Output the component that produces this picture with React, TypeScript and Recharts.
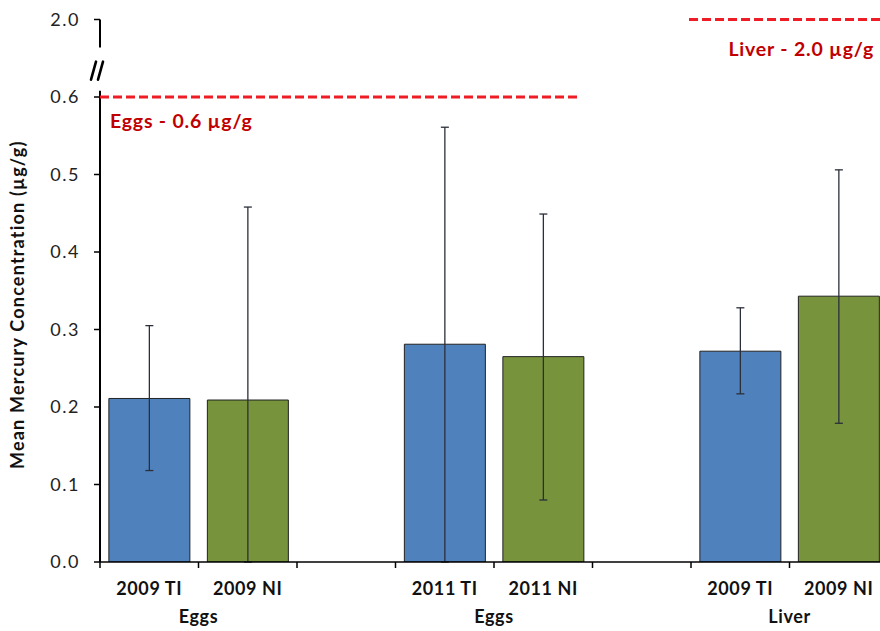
import React from 'react';
import {
  BarChart,
  Bar,
  XAxis,
  YAxis,
  Cell,
  ErrorBar,
  ReferenceLine,
  ReferenceDot,
} from 'recharts';

// Sample groups along the x axis (empty entries are spacer slots between tissues)
const sampleLabels = ['2009 TI', '2009 NI', '', '2011 TI', '2011 NI', '', '2009 TI', '2009 NI'];
const tissues = ['Eggs', 'Eggs', '', 'Eggs', 'Eggs', '', 'Liver', 'Liver'];
const sites = ['TI', 'NI', '', 'TI', 'NI', '', 'TI', 'NI'];

// Mean mercury concentration (µg/g) and the ends of each error bar
const meanHg = [0.211, 0.209, null, 0.281, 0.265, null, 0.272, 0.343];
const errLowerEnd = [0.118, 0, null, 0, 0.08, null, 0.217, 0.179];
const errUpperEnd = [0.305, 0.458, null, 0.561, 0.449, null, 0.328, 0.506];

// Broken y axis: 0 – 0.6 on a linear scale, top tick stands for 2.0
const yTicks = [0, 0.1, 0.2, 0.3, 0.4, 0.5, 0.6, 0.7];
const yTickLabels = ['0.0', '0.1', '0.2', '0.3', '0.4', '0.5', '0.6', '2.0'];
const axisGapBottom = 0.608;
const axisGapTop = 0.664;
const axisBreakAt = 0.634;

// Guideline thresholds (axis units) and their horizontal extent (slot units)
const eggThreshold = 0.6;
const eggLineSpan = [0, 4.87];
const liverThresholdPos = 0.7;
const liverLineSpan = [5.98, 8];

const data = sampleLabels.map((label, i) => {
  const m = meanHg[i];
  return {
    key: `s${i}`,
    slot: i + 1,
    label,
    tissue: tissues[i],
    site: sites[i],
    mean: m,
    err:
      m == null
        ? undefined
        : [m - (errLowerEnd[i] as number), (errUpperEnd[i] as number) - m],
  };
});

const CHART_W = 888;
const CHART_H = 631;
const Y_AXIS_W = 100;
const X_AXIS_H = 69;
const MARGIN_TOP = 19.5;
const PLOT_W = CHART_W - Y_AXIS_W;
const SLOT_W = PLOT_W / sampleLabels.length;

const BLUE = '#4F81BD';
const GREEN = '#77933C';
const RED_LINE = '#EE1C25';
const RED_TEXT = '#C00000';
const FONT = 'Lato, "Open Sans", sans-serif';

const XTick = (props: any) => {
  const { x, y, index } = props;
  const edge = x - SLOT_W / 2;
  const label = sampleLabels[index];
  const showGroup =
    index > 0 && tissues[index] !== '' && tissues[index] === tissues[index - 1];
  return (
    <g>
      <line x1={edge} y1={y} x2={edge} y2={y + 6} stroke="#000" strokeWidth={1.5} />
      {label !== '' && (
        <text
          x={x}
          y={y + 33}
          textAnchor="middle"
          fontFamily={FONT}
          fontWeight="bold"
          fontSize={18}
          letterSpacing={0.6}
          fill="#111"
        >
          {label}
        </text>
      )}
      {showGroup && (
        <text
          x={edge}
          y={y + 61}
          textAnchor="middle"
          fontFamily={FONT}
          fontWeight="bold"
          fontSize={18}
          letterSpacing={0.6}
          fill="#111"
        >
          {tissues[index]}
        </text>
      )}
    </g>
  );
};

const renderYLabel = (props: any) => {
  const { viewBox } = props;
  const cx = viewBox.x + 17;
  const cy = viewBox.y + viewBox.height / 2 + 14;
  return (
    <text
      x={cx}
      y={cy}
      transform={`rotate(-90 ${cx} ${cy})`}
      textAnchor="middle"
      dominantBaseline="central"
      fontFamily={FONT}
      fontWeight="bold"
      fontSize={18}
      letterSpacing={1.2}
      fill="#111"
    >
      Mean Mercury Concentration (µg/g)
    </text>
  );
};

const renderEggLabel = (props: any) => {
  const { viewBox } = props;
  return (
    <text
      x={viewBox.x + 10}
      y={viewBox.y + 31}
      fontFamily={FONT}
      fontWeight="bold"
      fontSize={19.5}
      letterSpacing={0.8}
      fill={RED_TEXT}
    >
      Eggs - 0.6 µg/g
    </text>
  );
};

const renderLiverLabel = (props: any) => {
  const { viewBox } = props;
  return (
    <text
      x={viewBox.x + viewBox.width - 14}
      y={viewBox.y + 36}
      textAnchor="end"
      fontFamily={FONT}
      fontWeight="bold"
      fontSize={19.5}
      letterSpacing={0.8}
      fill={RED_TEXT}
    >
      Liver - 2.0 µg/g
    </text>
  );
};

// "//" break marker drawn across the y axis
const renderBreak = (props: any) => {
  const { cx, cy } = props;
  return (
    <g stroke="#000" strokeWidth={2.6} strokeLinecap="round">
      <line x1={cx - 9} y1={cy + 9} x2={cx - 4} y2={cy - 9} />
      <line x1={cx - 2} y1={cy + 9} x2={cx + 3} y2={cy - 9} />
    </g>
  );
};

export default function App() {
  return (
    <>
      <style>{'body { margin: 0; }'}</style>
      <div
        style={{
          width: 880,
          height: CHART_H,
          overflow: 'hidden',
          background: '#fff',
        }}
      >
        <BarChart
          width={CHART_W}
          height={CHART_H}
          data={data}
          margin={{ top: MARGIN_TOP, right: 0, bottom: 0, left: 0 }}
          barCategoryGap="9%"
        >
          <XAxis
            dataKey="key"
            height={X_AXIS_H}
            interval={0}
            tickLine={false}
            tickSize={0}
            tickMargin={0}
            axisLine={{ stroke: '#000', strokeWidth: 1.5 }}
            tick={<XTick />}
          />
          <XAxis
            xAxisId="num"
            dataKey="slot"
            type="number"
            domain={[0, 'dataMax']}
            allowDataOverflow
            hide
          />
          <YAxis
            width={Y_AXIS_W}
            type="number"
            domain={[0, 0.7]}
            ticks={yTicks}
            interval={0}
            allowDataOverflow
            axisLine={false}
            tickLine={{ stroke: '#000', strokeWidth: 1.5 }}
            tickSize={6}
            tickMargin={14}
            tickFormatter={(v: number) => yTickLabels[yTicks.indexOf(v)]}
            tick={{ fill: '#222', fontSize: 18, fontFamily: FONT, letterSpacing: 1.5 }}
            label={renderYLabel}
          />
          <Bar dataKey="mean" isAnimationActive={false} stroke="#222" strokeWidth={1}>
            {data.map((d) => (
              <Cell key={d.key} fill={d.site === 'TI' ? BLUE : GREEN} />
            ))}
            <ErrorBar
              dataKey="err"
              width={4}
              stroke="#2b2f3a"
              strokeWidth={1.3}
              isAnimationActive={false}
            />
          </Bar>
          {/* broken y axis line */}
          <ReferenceLine
            xAxisId="num"
            segment={[
              { x: 0, y: 0 },
              { x: 0, y: axisGapBottom },
            ]}
            stroke="#000"
            strokeWidth={2}
          />
          <ReferenceLine
            xAxisId="num"
            segment={[
              { x: 0, y: axisGapTop },
              { x: 0, y: 0.7 },
            ]}
            stroke="#000"
            strokeWidth={2}
          />
          <ReferenceDot xAxisId="num" x={0} y={axisBreakAt} r={0} shape={renderBreak} />
          {/* guideline thresholds */}
          <ReferenceLine
            xAxisId="num"
            segment={[
              { x: eggLineSpan[0], y: eggThreshold },
              { x: eggLineSpan[1], y: eggThreshold },
            ]}
            stroke={RED_LINE}
            strokeWidth={3}
            strokeDasharray="9 4"
            label={renderEggLabel}
          />
          <ReferenceLine
            xAxisId="num"
            segment={[
              { x: liverLineSpan[0], y: liverThresholdPos },
              { x: liverLineSpan[1], y: liverThresholdPos },
            ]}
            stroke={RED_LINE}
            strokeWidth={3}
            strokeDasharray="9 4"
            label={renderLiverLabel}
          />
        </BarChart>
      </div>
    </>
  );
}
